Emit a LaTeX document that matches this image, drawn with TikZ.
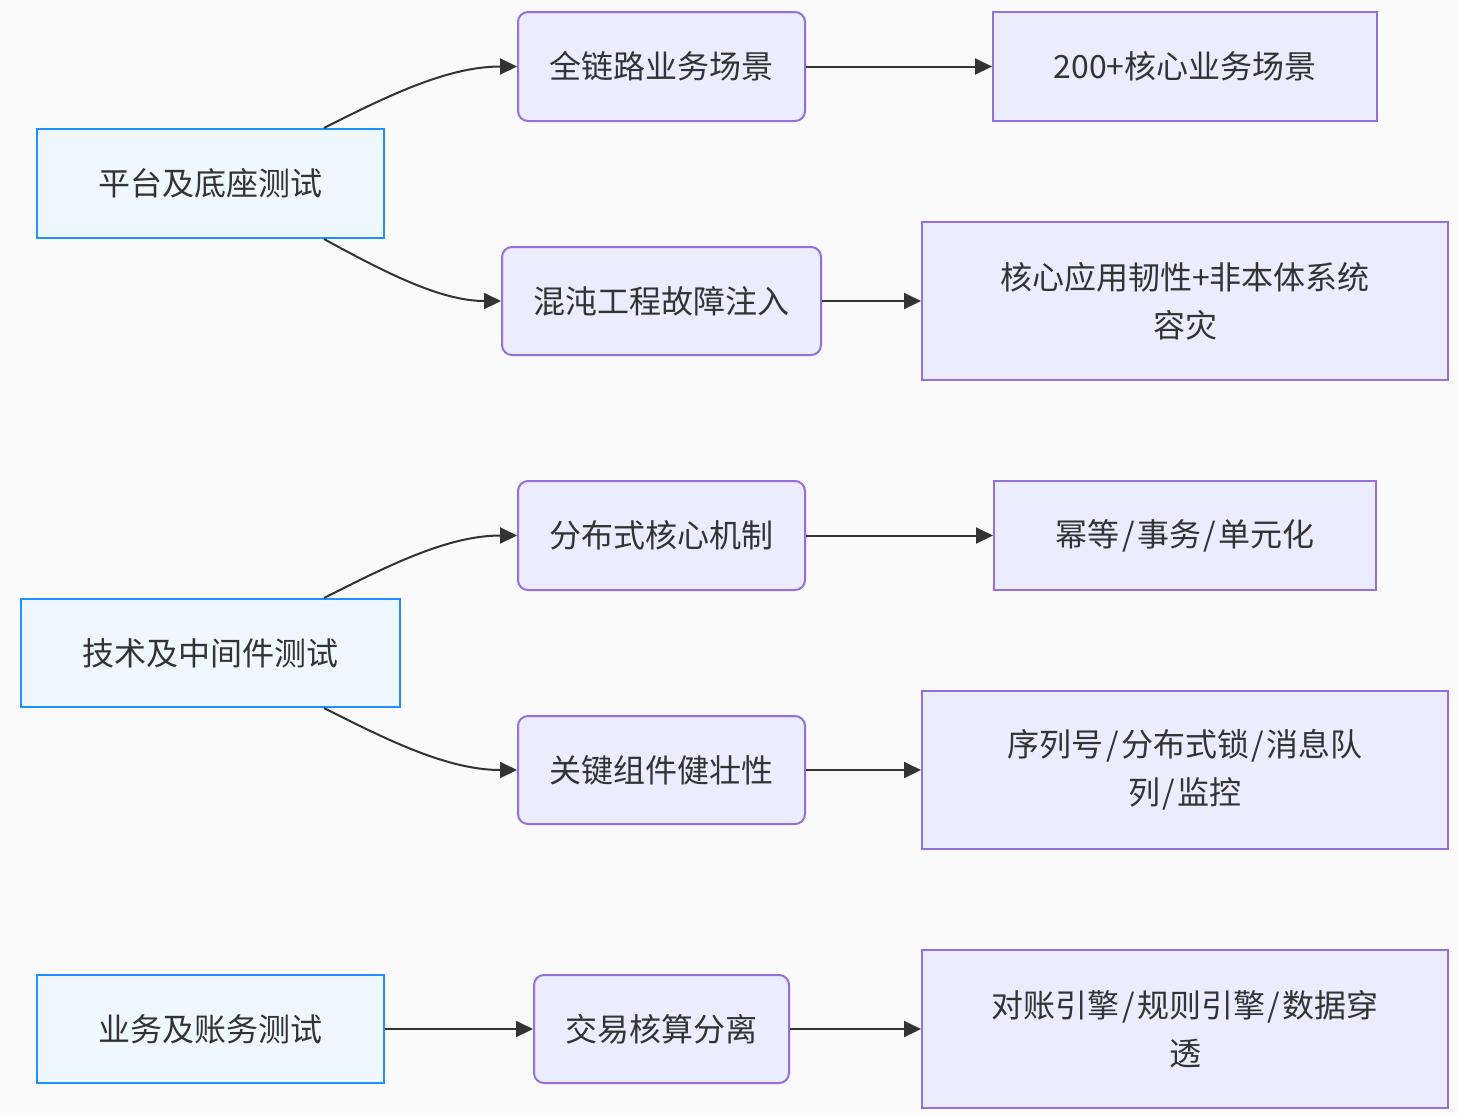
\documentclass[tikz,border=0pt]{standalone}
\usepackage{fontspec}
\setmainfont{Noto Sans CJK SC}
\usetikzlibrary{arrows.meta}
\definecolor{bgc}{HTML}{FAFAFA}
\definecolor{bluefill}{HTML}{F0F8FF}
\definecolor{blueline}{HTML}{1E90FF}
\definecolor{purfill}{HTML}{ECECFF}
\definecolor{purline}{HTML}{9370DB}
\definecolor{txt}{HTML}{333333}
\newcommand{\slh}{\hspace{1.2pt}/\hspace{1.2pt}}
\begin{document}
\begin{tikzpicture}[x=0.5pt,y=-0.5pt,
  every node/.style={font=\fontsize{16pt}{24pt}\selectfont, text=txt, align=center, inner sep=0pt},
  rootbox/.style={draw=blueline, fill=bluefill, line width=1pt, rectangle},
  midbox/.style={draw=purline, fill=purfill, line width=1pt, rectangle, rounded corners=5pt},
  leafbox/.style={draw=purline, fill=purfill, line width=1pt, rectangle},
  conn/.style={draw=txt, line width=1pt, -{Triangle[length=8.5pt,width=8pt]}}
]
\fill[bgc] (0,0) rectangle (1458,1116);
\useasboundingbox (0,0) rectangle (1458,1116);

\node[rootbox, minimum width=173.5pt, minimum height=54.5pt] (A) at (210.5,183.5) {平台及底座测试};
\node[midbox, minimum width=143.5pt, minimum height=54.5pt] (B) at (661.5,66.5) {全链路业务场景};
\node[leafbox, minimum width=192pt, minimum height=54.5pt] (C) at (1185,66.5) {200+核心业务场景};
\node[midbox, minimum width=159.5pt, minimum height=54pt] (D) at (661.5,301) {混沌工程故障注入};
\node[leafbox, minimum width=263pt, minimum height=79pt] (E) at (1185,301) {核心应用韧性+非本体系统\\容灾};

\node[rootbox, minimum width=189.5pt, minimum height=54pt] (F) at (210.5,653) {技术及中间件测试};
\node[midbox, minimum width=143.5pt, minimum height=54.5pt] (G) at (661.5,535.5) {分布式核心机制};
\node[leafbox, minimum width=191pt, minimum height=54.5pt] (H) at (1185,535.5) {幂等\slh 事务\slh 单元化};
\node[midbox, minimum width=143.5pt, minimum height=54pt] (I) at (661.5,770) {关键组件健壮性};
\node[leafbox, minimum width=263pt, minimum height=79pt] (J) at (1185,770) {序列号\slh 分布式锁\slh 消息队\\列\slh 监控};

\node[rootbox, minimum width=173.5pt, minimum height=54pt] (K) at (210.5,1029) {业务及账务测试};
\node[midbox, minimum width=127.5pt, minimum height=54pt] (L) at (661.5,1029) {交易核算分离};
\node[leafbox, minimum width=263pt, minimum height=79pt] (M) at (1185,1029) {对账引擎\slh 规则引擎\slh 数据穿\\透};

\coordinate (a1) at ([xshift=-30.5pt]A.north east);
\coordinate (a2) at ([xshift=-30.5pt]A.south east);
\coordinate (f1) at ([xshift=-38.5pt]F.north east);
\coordinate (f2) at ([xshift=-38.5pt]F.south east);

\draw[conn] (a1) .. controls +(67,-34) and +(-68,0) .. (B.west);
\draw[conn] (a2) .. controls +(62,34) and +(-60,0) .. (D.west);
\draw[conn] (f1) .. controls +(67,-34) and +(-68,0) .. (G.west);
\draw[conn] (f2) .. controls +(67,34) and +(-68,0) .. (I.west);

\draw[conn] (B) -- (C);
\draw[conn] (D) -- (E);
\draw[conn] (G) -- (H);
\draw[conn] (I) -- (J);
\draw[conn] (K) -- (L);
\draw[conn] (L) -- (M);
\end{tikzpicture}
\end{document}
